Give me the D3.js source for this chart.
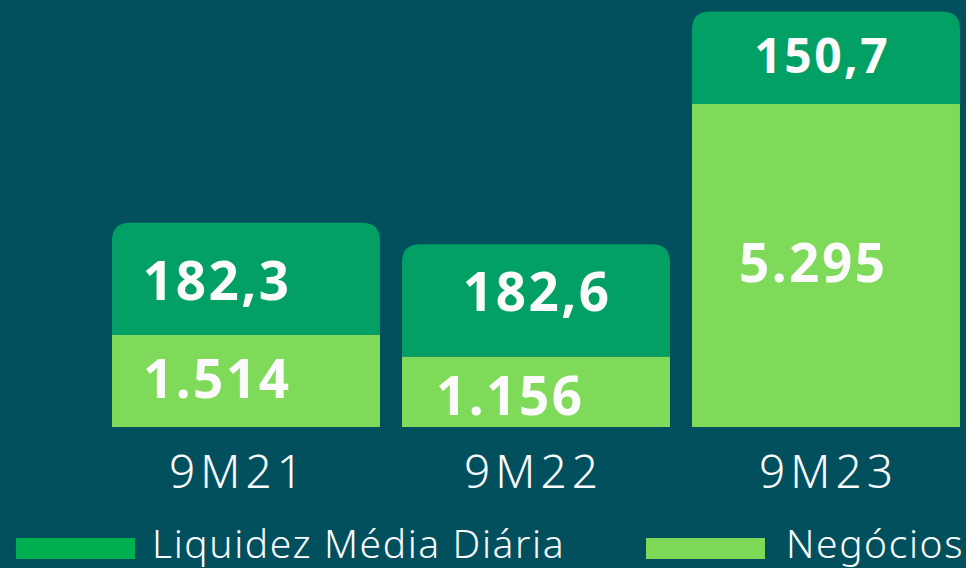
<!DOCTYPE html>
<html>
<head>
<meta charset="utf-8">
<script src="https://cdn.jsdelivr.net/npm/d3@7"></script>
<style>
  html, body { margin: 0; padding: 0; background: #02505e; }
  svg { display: block; }
</style>
</head>
<body>
<svg id="chart" width="966" height="568"></svg>
<script>
// Periods and the two stacked series
const periods = ["9M21", "9M22", "9M23"];
const negocios = [1514, 1156, 5295];          // Negócios (mil)
const liquidez = [182.3, 182.6, 150.7];        // Liquidez Média Diária (R$ milhões)
const negociosLabels = ["1.514", "1.156", "5.295"];
const liquidezLabels = ["182,3", "182,6", "150,7"];
const legendNames = ["Liquidez Média Diária", "Negócios"];

const W = 966, H = 568;
const baseY = 427;
const colors = {
  bg: "#02505e",
  liq: "#02a064",
  neg: "#80da5a",
  liqKey: "#00b050",
  negKey: "#7ed957",
  text: "#fbfbfb"
};

const svg = d3.select("#chart");
svg.append("rect").attr("width", W).attr("height", H).attr("fill", colors.bg);

const x = d3.scaleBand().domain(periods).range([101, 971]).paddingInner(0.076).paddingOuter(0.038);
// Separate height scales for each series
const hNeg = d3.scaleLinear().domain([0, 7000]).range([0, 427]);
const hLiq = d3.scaleLinear().domain([0, 700]).range([0, 430]);

// Label nudges within each bar (px from bar centre / segment middle)
const negLabelDx = [-30, -27, -14];
const liqLabelDx = [-30, 0, -5];
const negLabelDy = [1, 7, 0];
const liqLabelDy = [5, -5, -1];
const liqLabelSize = [53, 53, 48];
const tickDx = [-10, -5, 0];

const data = periods.map((p, i) => ({
  p, i, neg: negocios[i], liq: liquidez[i]
}));

function topRounded(x0, y0, w, h, r) {
  return `M${x0},${y0 + h} V${y0 + r} Q${x0},${y0} ${x0 + r},${y0} H${x0 + w - r} Q${x0 + w},${y0} ${x0 + w},${y0 + r} V${y0 + h} Z`;
}

const g = svg.append("g");
const bars = g.selectAll("g.bar").data(data).join("g").attr("class", "bar");

bars.append("rect")
  .attr("x", d => x(d.p))
  .attr("width", x.bandwidth())
  .attr("y", d => baseY - hNeg(d.neg))
  .attr("height", d => hNeg(d.neg))
  .attr("fill", colors.neg);

bars.append("path")
  .attr("d", d => {
    const top = baseY - hNeg(d.neg) - hLiq(d.liq);
    return topRounded(x(d.p), top, x.bandwidth(), hLiq(d.liq), 18);
  })
  .attr("fill", colors.liq);

const valueFont = "'Noto Sans', 'DejaVu Sans', sans-serif";
const valueLs = 2.5;

bars.append("text")
  .attr("x", d => x(d.p) + x.bandwidth() / 2 + negLabelDx[d.i] + valueLs / 2)
  .attr("y", d => baseY - hNeg(d.neg) / 2 + 16 + negLabelDy[d.i])
  .attr("text-anchor", "middle")
  .attr("font-family", valueFont)
  .attr("font-weight", 700)
  .attr("font-size", 53)
  .attr("letter-spacing", valueLs)
  .attr("fill", colors.text)
  .text(d => negociosLabels[d.i]);

bars.append("text")
  .attr("x", d => x(d.p) + x.bandwidth() / 2 + liqLabelDx[d.i] + valueLs / 2)
  .attr("y", d => baseY - hNeg(d.neg) - hLiq(d.liq) / 2 + 16 + liqLabelDy[d.i])
  .attr("text-anchor", "middle")
  .attr("font-family", valueFont)
  .attr("font-weight", 700)
  .attr("font-size", d => liqLabelSize[d.i])
  .attr("letter-spacing", valueLs)
  .attr("fill", colors.text)
  .text(d => liquidezLabels[d.i]);

// Category axis
const tickLs = 5;
const axis = d3.axisBottom(x).tickSize(0).tickPadding(0);
const axG = svg.append("g").attr("transform", `translate(0,${baseY})`).call(axis);
axG.select(".domain").remove();
axG.selectAll("text")
  .attr("y", 61)
  .attr("dy", 0)
  .attr("dx", (d, i) => tickDx[i] + tickLs / 2)
  .attr("font-family", "'Noto Sans', sans-serif")
  .attr("font-weight", 300)
  .attr("font-size", 46)
  .attr("letter-spacing", tickLs)
  .attr("fill", colors.text);

// Legend
const legend = svg.append("g");
const keys = [
  { name: legendNames[0], color: colors.liqKey, x: 16, tx: 136 },
  { name: legendNames[1], color: colors.negKey, x: 646, tx: 140 }
];
const li = legend.selectAll("g").data(keys).join("g")
  .attr("transform", d => `translate(${d.x},538)`);
li.append("rect").attr("width", 119).attr("height", 21).attr("fill", d => d.color);
li.append("text")
  .attr("x", d => d.tx)
  .attr("y", 20)
  .attr("font-family", "'Noto Sans', sans-serif")
  .attr("font-weight", 300)
  .attr("font-size", 39)
  .attr("letter-spacing", 1.6)
  .attr("fill", colors.text)
  .text(d => d.name);
</script>
</body>
</html>
